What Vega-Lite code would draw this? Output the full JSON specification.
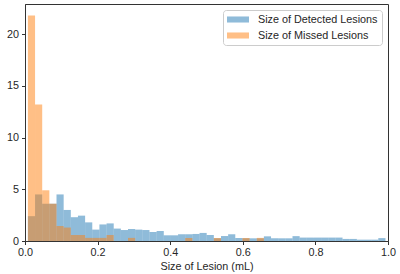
{
  "$schema": "https://vega.github.io/schema/vega-lite/v6.json",
  "autosize": "none",
  "width": 363,
  "height": 237,
  "padding": {"left": 25, "top": 4, "right": 12, "bottom": 33},
  "background": "white",
  "config": {
    "font": "Liberation Sans",
    "view": {"stroke": "#333333", "strokeWidth": 1},
    "axis": {
      "labelFont": "Liberation Sans",
      "labelFontSize": 10.8,
      "labelColor": "#262626",
      "titleFont": "Liberation Sans",
      "titleFontSize": 10.8,
      "titleFontWeight": "normal",
      "titleColor": "#262626",
      "domainColor": "#333333",
      "tickColor": "#333333",
      "tickSize": 3.5,
      "grid": false
    },
    "legend": {
      "labelFont": "Liberation Sans",
      "labelFontSize": 10.8,
      "labelColor": "#262626"
    }
  },
  "data": {
    "values": [
      {"series": "Size of Detected Lesions", "start": 0.0080, "end": 0.0277, "density": 2.4},
      {"series": "Size of Detected Lesions", "start": 0.0277, "end": 0.0474, "density": 4.5},
      {"series": "Size of Detected Lesions", "start": 0.0474, "end": 0.0671, "density": 3.6},
      {"series": "Size of Detected Lesions", "start": 0.0671, "end": 0.0868, "density": 3.6},
      {"series": "Size of Detected Lesions", "start": 0.0868, "end": 0.1065, "density": 4.5},
      {"series": "Size of Detected Lesions", "start": 0.1065, "end": 0.1262, "density": 3.0},
      {"series": "Size of Detected Lesions", "start": 0.1262, "end": 0.1459, "density": 2.3},
      {"series": "Size of Detected Lesions", "start": 0.1459, "end": 0.1656, "density": 2.45},
      {"series": "Size of Detected Lesions", "start": 0.1656, "end": 0.1853, "density": 1.8},
      {"series": "Size of Detected Lesions", "start": 0.1853, "end": 0.2050, "density": 1.1},
      {"series": "Size of Detected Lesions", "start": 0.2050, "end": 0.2247, "density": 1.6},
      {"series": "Size of Detected Lesions", "start": 0.2247, "end": 0.2444, "density": 1.7},
      {"series": "Size of Detected Lesions", "start": 0.2444, "end": 0.2641, "density": 1.2},
      {"series": "Size of Detected Lesions", "start": 0.2641, "end": 0.2838, "density": 1.06},
      {"series": "Size of Detected Lesions", "start": 0.2838, "end": 0.3035, "density": 1.16},
      {"series": "Size of Detected Lesions", "start": 0.3035, "end": 0.3232, "density": 1.1},
      {"series": "Size of Detected Lesions", "start": 0.3232, "end": 0.3429, "density": 1.06},
      {"series": "Size of Detected Lesions", "start": 0.3429, "end": 0.3626, "density": 0.87},
      {"series": "Size of Detected Lesions", "start": 0.3626, "end": 0.3823, "density": 0.97},
      {"series": "Size of Detected Lesions", "start": 0.3823, "end": 0.4020, "density": 0.55},
      {"series": "Size of Detected Lesions", "start": 0.4020, "end": 0.4217, "density": 0.55},
      {"series": "Size of Detected Lesions", "start": 0.4217, "end": 0.4414, "density": 0.65},
      {"series": "Size of Detected Lesions", "start": 0.4414, "end": 0.4611, "density": 0.65},
      {"series": "Size of Detected Lesions", "start": 0.4611, "end": 0.4808, "density": 0.68},
      {"series": "Size of Detected Lesions", "start": 0.4808, "end": 0.5005, "density": 0.78},
      {"series": "Size of Detected Lesions", "start": 0.5005, "end": 0.5202, "density": 0.58},
      {"series": "Size of Detected Lesions", "start": 0.5202, "end": 0.5399, "density": 0.26},
      {"series": "Size of Detected Lesions", "start": 0.5399, "end": 0.5596, "density": 0.48},
      {"series": "Size of Detected Lesions", "start": 0.5596, "end": 0.5793, "density": 0.65},
      {"series": "Size of Detected Lesions", "start": 0.5793, "end": 0.5990, "density": 0.3},
      {"series": "Size of Detected Lesions", "start": 0.5990, "end": 0.6187, "density": 0.26},
      {"series": "Size of Detected Lesions", "start": 0.6187, "end": 0.6384, "density": 0.26},
      {"series": "Size of Detected Lesions", "start": 0.6384, "end": 0.6581, "density": 0.26},
      {"series": "Size of Detected Lesions", "start": 0.6581, "end": 0.6778, "density": 0.45},
      {"series": "Size of Detected Lesions", "start": 0.6778, "end": 0.6975, "density": 0.26},
      {"series": "Size of Detected Lesions", "start": 0.6975, "end": 0.7172, "density": 0.26},
      {"series": "Size of Detected Lesions", "start": 0.7172, "end": 0.7369, "density": 0.26},
      {"series": "Size of Detected Lesions", "start": 0.7369, "end": 0.7566, "density": 0.47},
      {"series": "Size of Detected Lesions", "start": 0.7566, "end": 0.7763, "density": 0.33},
      {"series": "Size of Detected Lesions", "start": 0.7763, "end": 0.7960, "density": 0.33},
      {"series": "Size of Detected Lesions", "start": 0.7960, "end": 0.8157, "density": 0.33},
      {"series": "Size of Detected Lesions", "start": 0.8157, "end": 0.8354, "density": 0.33},
      {"series": "Size of Detected Lesions", "start": 0.8354, "end": 0.8551, "density": 0.33},
      {"series": "Size of Detected Lesions", "start": 0.8551, "end": 0.8748, "density": 0.33},
      {"series": "Size of Detected Lesions", "start": 0.8748, "end": 0.8945, "density": 0.2},
      {"series": "Size of Detected Lesions", "start": 0.8945, "end": 0.9142, "density": 0.2},
      {"series": "Size of Detected Lesions", "start": 0.9142, "end": 0.9339, "density": 0.13},
      {"series": "Size of Detected Lesions", "start": 0.9339, "end": 0.9536, "density": 0.13},
      {"series": "Size of Detected Lesions", "start": 0.9536, "end": 0.9733, "density": 0.13},
      {"series": "Size of Detected Lesions", "start": 0.9733, "end": 0.9930, "density": 0.28},
      {"series": "Size of Missed Lesions", "start": 0.0080, "end": 0.0277, "density": 21.8},
      {"series": "Size of Missed Lesions", "start": 0.0277, "end": 0.0474, "density": 13.2},
      {"series": "Size of Missed Lesions", "start": 0.0474, "end": 0.0671, "density": 4.9},
      {"series": "Size of Missed Lesions", "start": 0.0671, "end": 0.0868, "density": 3.6},
      {"series": "Size of Missed Lesions", "start": 0.0868, "end": 0.1065, "density": 1.45},
      {"series": "Size of Missed Lesions", "start": 0.1065, "end": 0.1262, "density": 1.3},
      {"series": "Size of Missed Lesions", "start": 0.1262, "end": 0.1459, "density": 0.58},
      {"series": "Size of Missed Lesions", "start": 0.1459, "end": 0.1656, "density": 0.58},
      {"series": "Size of Missed Lesions", "start": 0.1656, "end": 0.1853, "density": 0.3},
      {"series": "Size of Missed Lesions", "start": 0.1853, "end": 0.2050, "density": 0.3},
      {"series": "Size of Missed Lesions", "start": 0.2050, "end": 0.2247, "density": 0.3},
      {"series": "Size of Missed Lesions", "start": 0.2247, "end": 0.2444, "density": 0.58},
      {"series": "Size of Missed Lesions", "start": 0.2838, "end": 0.3035, "density": 0.3},
      {"series": "Size of Missed Lesions", "start": 0.4414, "end": 0.4611, "density": 0.3},
      {"series": "Size of Missed Lesions", "start": 0.5202, "end": 0.5399, "density": 0.3},
      {"series": "Size of Missed Lesions", "start": 0.5990, "end": 0.6187, "density": 0.3},
      {"series": "Size of Missed Lesions", "start": 0.6384, "end": 0.6581, "density": 0.3}
    ]
  },
  "mark": {"type": "rect", "opacity": 0.5},
  "encoding": {
    "x": {
      "field": "start",
      "type": "quantitative",
      "scale": {"domain": [0, 1], "nice": false, "zero": false},
      "axis": {"values": [0, 0.2, 0.4, 0.6, 0.8, 1.0], "format": ".1f", "labelPadding": 2, "title": "Size of Lesion (mL)", "titlePadding": 3, "labelFlush": false}
    },
    "x2": {"field": "end"},
    "y": {
      "field": "density",
      "type": "quantitative",
      "scale": {"domain": [0, 22.9], "nice": false},
      "axis": {"values": [0, 5, 10, 15, 20], "labelPadding": 3, "title": null, "labelFlush": false}
    },
    "y2": {"datum": 0},
    "color": {
      "field": "series",
      "type": "nominal",
      "scale": {"domain": ["Size of Detected Lesions", "Size of Missed Lesions"], "range": ["#1f77b4", "#ff7f0e"]},
      "legend": {
        "title": null,
        "orient": "none",
        "legendX": 198,
        "legendY": 6,
        "symbolType": "M-2,-0.55H2V0.55H-2Z",
        "symbolSize": 121,
        "symbolOffset": 5.5,
        "symbolOpacity": 0.5,
        "symbolStrokeWidth": 0,
        "labelOffset": 14.5,
        "rowPadding": 4,
        "padding": 4,
        "strokeColor": "#cccccc",
        "fillColor": "white",
        "cornerRadius": 3
      }
    },
    "order": {"field": "series"}
  }
}
